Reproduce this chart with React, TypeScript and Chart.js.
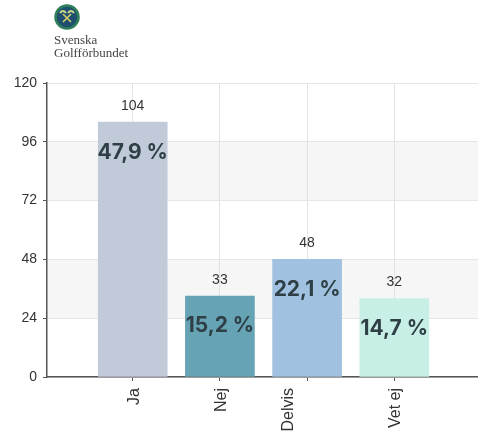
import React, { useEffect, useRef } from "react";
import { Chart, registerables } from "chart.js";

Chart.register(...registerables);

const categories = ["Ja", "Nej", "Delvis", "Vet ej"];
const values = [104, 33, 48, 32];
const percents = ["47,9 %", "15,2 %", "22,1 %", "14,7 %"];
const barColors = ["#c1cad8", "#66a3b5", "#a0c2e0", "#c8efe6"];
const bands = [[72, 96], [24, 48]];
const yTicks = [0, 24, 48, 72, 96, 120];

const bandPlugin = {
  id: "bands",
  beforeDraw(chart: any) {
    const { ctx, chartArea, scales } = chart;
    // Nudge the rotated tick labels; "Delvis" sits left of its tick in the reference.
    const items = scales.x.getLabelItems();
    items.forEach((item: any) => {
      if (!item.moved) {
        item.options.translation[0] += item.label === "Delvis" ? -18.5 : 1.5;
        item.moved = true;
      }
    });
    ctx.save();
    ctx.fillStyle = "#f6f6f6";
    for (const [lo, hi] of bands) {
      const top = scales.y.getPixelForValue(hi);
      const bottom = scales.y.getPixelForValue(lo);
      ctx.fillRect(chartArea.left, top, chartArea.right - chartArea.left, bottom - top);
    }
    ctx.restore();
  },
};

const labelPlugin = {
  id: "barLabels",
  afterDatasetsDraw(chart: any) {
    const { ctx, scales } = chart;
    ctx.save();
    ctx.textAlign = "center";
    ctx.textBaseline = "middle";
    values.forEach((v, i) => {
      const x = scales.x.getPixelForValue(i + 1);
      const y = scales.y.getPixelForValue(v);
      ctx.fillStyle = "#333333";
      ctx.font = '14px "Liberation Sans"';
      ctx.fillText(String(v), x, y - 16);
      ctx.fillStyle = "#2f3f46";
      ctx.font = '700 21px Inter';
      ctx.fillText(percents[i], x, y + 30);
    });
    ctx.restore();
  },
};

export default function App() {
  const ref = useRef<HTMLCanvasElement>(null);
  useEffect(() => {
    document.body.style.margin = "0";
    const chart = new Chart(ref.current!, {
      type: "bar",
      data: {
        datasets: [
          {
            data: values.map((v, i) => ({ x: i + 1, y: v })),
            backgroundColor: barColors,
            barThickness: 69,
          },
        ],
      },
      options: {
        responsive: false,
        animation: false,
        layout: { padding: { top: 83, right: 0, left: 0, bottom: 0 } },
        plugins: { legend: { display: false }, tooltip: { enabled: false } },
        scales: {
          x: {
            type: "linear",
            offset: false,
            min: 0.017,
            max: 4.96,
            afterBuildTicks: (s: any) => {
              s.ticks = [1, 2, 3, 4].map((value) => ({ value }));
            },
            afterFit: (s: any) => {
              s.height = 55;
            },
            border: { color: "#555555", width: 1.5 },
            grid: {
              offset: false,
              color: "#e2e2e2",
              tickColor: "#555555",
              tickLength: 4,
            },
            ticks: {
              autoSkip: false,
              minRotation: 90,
              maxRotation: 90,
              padding: 7,
              color: "#333333",
              font: { family: '"Liberation Sans"', size: 16 },
              callback: (v: any) => categories[Number(v) - 1] ?? "",
            },
          },
          y: {
            min: 0,
            max: 120,
            afterBuildTicks: (s: any) => {
              s.ticks = yTicks.map((value) => ({ value }));
            },
            afterFit: (s: any) => {
              s.width = 47;
            },
            border: { color: "#555555", width: 1.5 },
            grid: { color: "#e6e6e6", tickColor: "#555555", tickLength: 4 },
            ticks: {
              padding: 6,
              color: "#333333",
              font: { family: '"Liberation Sans"', size: 14 },
            },
          },
        },
      },
      plugins: [bandPlugin, labelPlugin],
    } as any);
    return () => chart.destroy();
  }, []);

  return (
    <div style={{ position: "relative", width: 478, height: 432, background: "#fff", overflow: "hidden" }}>
      <canvas ref={ref} width={478} height={432} style={{ display: "block" }} />
      <svg width={30} height={30} viewBox="0 0 30 30" style={{ position: "absolute", left: 52, top: 2 }}>
        <circle cx={15} cy={15} r={11.5} fill="#1f4f6e" />
        <circle cx={15} cy={15} r={11.5} fill="none" stroke="#2f7f5a" strokeWidth={2.5} />
        <path d="M8 11 Q11 7 14 11 M16 11 Q19 7 22 11" fill="none" stroke="#c9d88a" strokeWidth={2} />
        <path d="M11 20 L19 12 M19 20 L11 12" stroke="#d9cf6a" strokeWidth={1.6} />
      </svg>
      <div
        style={{
          position: "absolute",
          left: 54,
          top: 33,
          fontFamily: '"Liberation Serif", serif',
          fontSize: 13,
          lineHeight: "13px",
          color: "#444",
        }}
      >
        Svenska
        <br />
        Golfförbundet
      </div>
    </div>
  );
}
